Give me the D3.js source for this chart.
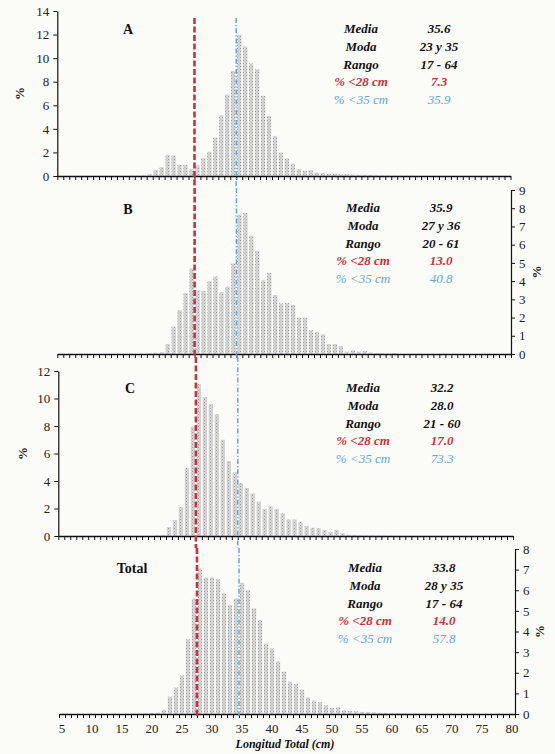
<!DOCTYPE html>
<html><head><meta charset="utf-8">
<script src="https://cdn.jsdelivr.net/npm/d3@7"></script>
<style>html,body{margin:0;padding:0;background:#fbfbf8;} svg{display:block;}</style>
</head><body>
<svg id="chart" width="555" height="754"></svg>
<script>
// ---------- data ----------
const categories = d3.range(5, 81);            // length classes (cm) on the axis
const firstLength = 17;                        // series below start at 17 cm
const seriesA = [0.02,0.03,0.05,0.15,0.5,0.75,1.8,1.75,0.95,0.95,0.6,0.9,1.5,2.05,3.25,5.15,6.9,8.9,12.0,11.0,9.55,9.05,6.8,5.1,3.4,2.0,1.5,1.05,0.6,0.45,0.5,0.3,0.25,0.2,0.2,0.15,0.15,0.12,0.1,0.1,0.08,0.06,0.05,0.04,0.03,0.03,0.02,0.02];
const seriesB = [0,0,0,0.03,0.07,0.1,0.55,1.5,2.4,3.35,4.7,3.5,3.45,4.0,4.25,3.4,3.7,4.97,7.65,7.75,6.5,5.65,4.05,4.46,3.24,2.78,2.8,2.7,2.0,2.0,1.3,1.2,1.08,0.55,0.55,0.44,0.13,0.2,0.13,0.16,0.08,0.05,0.04,0.03,0.05,0,0,0];
const seriesC = [0,0,0,0,0.05,0.08,0.65,1.16,2.1,4.95,7.95,11.05,10.1,9.6,8.85,7.0,5.45,4.65,3.85,3.5,3.1,2.5,1.97,2.15,1.97,1.65,1.2,1.2,1.04,0.73,0.6,0.56,0.44,0.3,0.44,0.2,0.1,0.08,0.06,0.05,0.04,0.03,0.03,0.03,0,0,0,0];
const seriesTotal = [0.02,0.02,0.03,0.05,0.07,0.2,0.84,1.28,1.87,3.62,5.6,7.06,6.62,6.62,6.53,5.85,5.28,5.6,6.36,6.0,5.12,4.56,3.42,3.18,2.55,2.05,1.57,1.45,1.18,0.8,0.65,0.57,0.42,0.3,0.33,0.18,0.14,0.13,0.1,0.1,0.08,0.06,0.05,0.04,0.03,0.03,0.02,0.02];
const xTickLabels = [5,10,15,20,25,30,35,40,45,50,55,60,65,70,75,80];
const yTicksA = [0,2,4,6,8,10,12,14];
const yTicksB = [0,1,2,3,4,5,6,7,8,9];
const yTicksC = [0,2,4,6,8,10,12];
const yTicksTotal = [0,1,2,3,4,5,6,7,8];
const panelNames = ["A","B","C","Total"];
const statLabels = ["Media","Moda","Rango","% <28 cm","% <35 cm"];
const statsA = ["35.6","23 y 35","17 - 64","7.3","35.9"];
const statsB = ["35.9","27 y 36","20 - 61","13.0","40.8"];
const statsC = ["32.2","28.0","21 - 60","17.0","73.3"];
const statsTotal = ["33.8","28 y 35","17 - 64","14.0","57.8"];
const cutoffs = [28, 35];
const xTitle = "Longitud Total (cm)";
const yTitle = "%";

// ---------- layout ----------
const layout = [
  {series:seriesA, stats:statsA, ticks:yTicksA, side:"left",  x0:57.3, x1:510.5, y0:176, y1:11,  lineTop:18,  lineBot:188, label:[128,34],  statY:33,  statX:[361,439], titleX:21},
  {series:seriesB, stats:statsB, ticks:yTicksB, side:"right", x0:57.3, x1:511,   y0:354, y1:190, lineTop:188, lineBot:357, label:[128,214], statY:212, statX:[363,441], titleX:538},
  {series:seriesC, stats:statsC, ticks:yTicksC, side:"left",  x0:58.3, x1:513,   y0:536, y1:371, lineTop:357, lineBot:548, label:[130,393], statY:392, statX:[363,442], titleX:24},
  {series:seriesTotal, stats:statsTotal, ticks:yTicksTotal, side:"right", x0:59, x1:515, y0:714, y1:549, lineTop:548, lineBot:716, label:[132,573], statY:572, statX:[365,444], titleX:541}
];
const statGap = 17.8;
const red = "#c5333c", blue = "#5ea8dd";
const serif = "'Liberation Serif','Times New Roman',serif";

const svg = d3.select("#chart");
const defs = svg.append("defs");
const pat = defs.append("pattern").attr("id","stip").attr("width",3).attr("height",3).attr("patternUnits","userSpaceOnUse");
pat.append("rect").attr("width",3).attr("height",3).attr("fill","#d8d8d8");
pat.append("rect").attr("x",0).attr("y",0).attr("width",1).attr("height",1).attr("fill","#9a9a9a");
pat.append("rect").attr("x",1.5).attr("y",1.5).attr("width",1).attr("height",1).attr("fill","#b0b0b0");

layout.forEach((p, i) => {
  const g = svg.append("g");
  const xb = d3.scaleBand().domain(categories).range([p.x0, p.x1]).paddingInner(0.28).paddingOuter(0.14);
  const xl = d3.scaleLinear().domain([categories[0]-0.5, categories[categories.length-1]+0.5]).range([p.x0, p.x1]);
  const yMax = p.ticks[p.ticks.length-1];
  const y = d3.scaleLinear().domain([0, yMax]).range([p.y0, p.y1]);

  const data = p.series.map((v, k) => ({len: firstLength + k, v}));
  g.selectAll("rect.bar").data(data.filter(d => d.v > 0)).join("rect")
    .attr("class","bar")
    .attr("x", d => xb(d.len)).attr("width", xb.bandwidth())
    .attr("y", d => y(d.v)).attr("height", d => p.y0 - y(d.v))
    .attr("fill","url(#stip)");

  // x axis comb
  const bounds = categories.map(c => c - 0.5).concat([categories[categories.length-1]+0.5]);
  const xa = g.append("g").attr("transform",`translate(0,${p.y0})`)
    .call(d3.axisBottom(xl).tickValues(bounds).tickSize(4).tickSizeOuter(0).tickFormat(""));
  xa.select(".domain").attr("stroke","#111").attr("stroke-width",1.3);
  xa.selectAll(".tick line").attr("stroke","#111").attr("stroke-width",1);

  // y axis
  const ya = g.append("g").attr("transform",`translate(${p.side==="left"?p.x0:p.x1},0)`)
    .call((p.side==="left"?d3.axisLeft(y):d3.axisRight(y)).tickValues(p.ticks).tickSize(4).tickSizeOuter(0).tickPadding(4));
  ya.select(".domain").attr("stroke","#111").attr("stroke-width",1.2);
  ya.selectAll(".tick line").attr("stroke","#111");
  ya.selectAll(".tick text").attr("font-family",serif).attr("font-size",13).attr("fill","#222");

  // y title
  g.append("text").attr("transform",`translate(${p.titleX},${(p.y0+p.y1)/2}) rotate(-90)`)
    .attr("text-anchor","middle").attr("dominant-baseline","middle")
    .attr("font-family",serif).attr("font-size",13).attr("font-weight","bold").attr("fill","#222").text(yTitle);

  // cutoff lines
  g.append("line").attr("x1",xl(cutoffs[0]-0.5)).attr("x2",xl(cutoffs[0]-0.5))
    .attr("y1",p.lineTop).attr("y2",p.lineBot)
    .attr("stroke",red).attr("stroke-width",2.6).attr("stroke-dasharray","6,2.5");
  g.append("line").attr("x1",xl(cutoffs[1]-0.5)).attr("x2",xl(cutoffs[1]-0.5))
    .attr("y1",p.lineTop).attr("y2",p.lineBot)
    .attr("stroke",blue).attr("stroke-width",1.5).attr("stroke-dasharray","5,2,1.2,2");

  // panel label
  g.append("text").attr("x",p.label[0]).attr("y",p.label[1]).attr("text-anchor","middle")
    .attr("font-family",serif).attr("font-size",14).attr("font-weight","bold").attr("fill","#111").text(panelNames[i]);

  // stats
  statLabels.forEach((lab, r) => {
    const col = r===3 ? red : (r===4 ? blue : "#111");
    const wt = r===4 ? "normal" : "bold";
    const yy = p.statY + r*statGap;
    g.append("text").attr("x",p.statX[0]).attr("y",yy).attr("text-anchor","middle")
      .attr("font-family",serif).attr("font-style","italic").attr("font-weight",wt)
      .attr("font-size",13).attr("fill",col).text(lab);
    g.append("text").attr("x",p.statX[1]).attr("y",yy).attr("text-anchor","middle")
      .attr("font-family",serif).attr("font-style","italic").attr("font-weight",wt)
      .attr("font-size",13).attr("fill",col).text(p.stats[r]);
  });

  // x tick labels for the last panel
  if (i === layout.length-1) {
    g.selectAll("text.xl").data(xTickLabels).join("text").attr("class","xl")
      .attr("x", d => xb(d) + xb.bandwidth()/2).attr("y", p.y0 + 19)
      .attr("text-anchor","middle").attr("font-family",serif).attr("font-size",13).attr("fill","#222")
      .text(d => d);
    g.append("text").attr("x",285).attr("y",748).attr("text-anchor","middle")
      .attr("font-family",serif).attr("font-style","italic").attr("font-weight","bold")
      .attr("font-size",12).attr("fill","#111").text(xTitle);
  }
});
</script>
</body></html>
